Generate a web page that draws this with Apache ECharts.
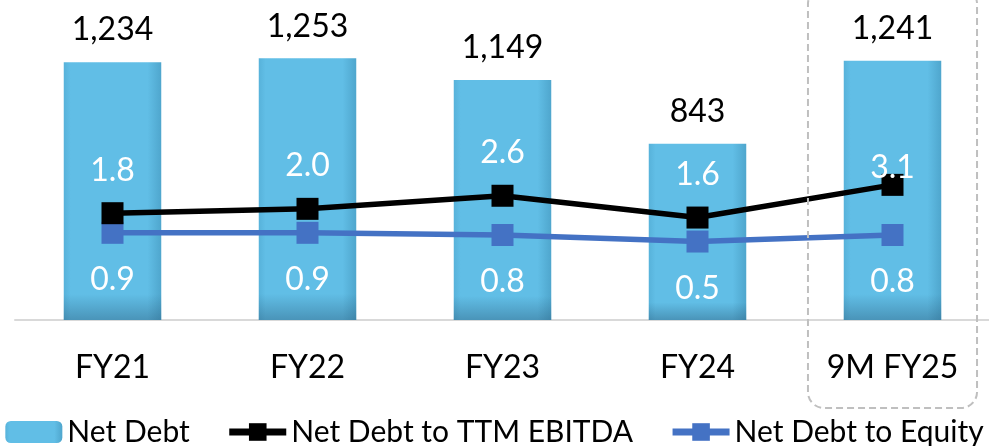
<!DOCTYPE html>
<html>
<head>
<meta charset="utf-8">
<script src="https://cdn.jsdelivr.net/npm/echarts@6/dist/echarts.min.js"></script>
<style>
  html, body { margin: 0; padding: 0; background: #ffffff; }
  #chart { width: 989px; height: 446px; }
</style>
</head>
<body>
<div id="chart"></div>
<script>
// Net debt (bars) and leverage ratios (lines)
const categories = ['FY21', 'FY22', 'FY23', 'FY24', '9M FY25'];
const netDebt = [1234, 1253, 1149, 843, 1241];
const debtToEbitda = [1.8, 2.0, 2.6, 1.6, 3.1];
const debtToEquity = [0.9, 0.9, 0.8, 0.5, 0.8];

const FONT = 'Lato, "Open Sans", "Noto Sans", sans-serif';

const chart = echarts.init(document.getElementById('chart'), null, { renderer: 'canvas' });

const barFill = new echarts.graphic.LinearGradient(0, 0, 1, 0, [
  { offset: 0, color: '#57B2DA' },
  { offset: 0.07, color: '#61BEE6' },
  { offset: 0.86, color: '#61BEE6' },
  { offset: 1, color: '#4FA6CD' }
]);
const barShade = new echarts.graphic.LinearGradient(0, 0, 0, 1, [
  { offset: 0, color: 'rgba(30,70,100,0)' },
  { offset: 0.9, color: 'rgba(30,70,100,0)' },
  { offset: 1, color: 'rgba(30,70,100,0.35)' }
]);

const option = {
  animation: false,
  backgroundColor: '#ffffff',
  textStyle: { fontFamily: FONT },
  grid: {
    left: 15, top: 27.5, width: 975, height: 292.5,
    containLabel: false, outerBoundsMode: 'none'
  },
  legend: {
    data: ['Net Debt', 'Net Debt to TTM EBITDA', 'Net Debt to Equity'],
    left: 'center',
    top: 417,
    padding: 0,
    itemWidth: 57,
    itemHeight: 22,
    itemGap: 36,
    lineStyle: { width: 7 },
    textStyle: { fontFamily: FONT, fontSize: 30, color: '#000000' }
  },
  xAxis: {
    type: 'category',
    data: categories,
    axisTick: { show: false },
    axisLine: { lineStyle: { color: '#D9D9D9', width: 2 } },
    axisLabel: { fontFamily: FONT, fontSize: 32, color: '#000000', margin: 32 }
  },
  yAxis: [
    { type: 'value', min: 0, max: 1400, show: false, splitLine: { show: false } },
    { type: 'value', min: -3.1, max: 10.32, show: false, splitLine: { show: false } }
  ],
  series: [
    {
      name: 'Net Debt',
      type: 'bar',
      data: netDebt,
      barWidth: '50%',
      itemStyle: { color: barFill },
      label: {
        show: true, position: 'top', distance: 16,
        fontFamily: FONT, fontSize: 32, color: '#000000',
        formatter: p => p.value.toLocaleString('en-US')
      },
      z: 2
    },
    {
      name: 'shade',
      type: 'bar',
      data: netDebt,
      barWidth: '50%',
      barGap: '-100%',
      itemStyle: { color: barShade },
      silent: true,
      z: 2
    },
    {
      name: 'Net Debt to TTM EBITDA',
      type: 'line',
      yAxisIndex: 1,
      data: debtToEbitda.map((v, i) => i === categories.length - 1
        ? { value: v, label: { distance: -10 } } : v),
      symbol: 'rect',
      symbolSize: 22,
      lineStyle: { color: '#000000', width: 5.5 },
      itemStyle: { color: '#000000' },
      label: {
        show: true, position: 'top', distance: 16,
        fontFamily: FONT, fontSize: 32, color: '#ffffff',
        formatter: p => p.value.toFixed(1)
      },
      z: 4
    },
    {
      name: 'Net Debt to Equity',
      type: 'line',
      yAxisIndex: 1,
      data: debtToEquity,
      symbol: 'rect',
      symbolSize: 22,
      lineStyle: { color: '#4472C4', width: 5.5 },
      itemStyle: { color: '#4472C4' },
      label: {
        show: true, position: 'bottom', distance: 20,
        fontFamily: FONT, fontSize: 32, color: '#ffffff',
        formatter: p => p.value.toFixed(1)
      },
      z: 3
    }
  ]
};

chart.setOption(option);

// Dashed rounded frame around the year-to-date column
const lastCat = categories[categories.length - 1];
const cx = chart.convertToPixel({ xAxisIndex: 0 }, lastCat);
const band = chart.convertToPixel({ xAxisIndex: 0 }, categories[1]) -
             chart.convertToPixel({ xAxisIndex: 0 }, categories[0]);
const frameW = band * 0.867;
chart.setOption({
  graphic: [{
    type: 'rect',
    shape: { x: cx - frameW / 2, y: -12, width: frameW, height: 420, r: 16 },
    style: { fill: 'none', stroke: '#BFBFBF', lineWidth: 2, lineDash: [7, 4] },
    z: 10,
    silent: true
  }]
});
</script>
</body>
</html>
